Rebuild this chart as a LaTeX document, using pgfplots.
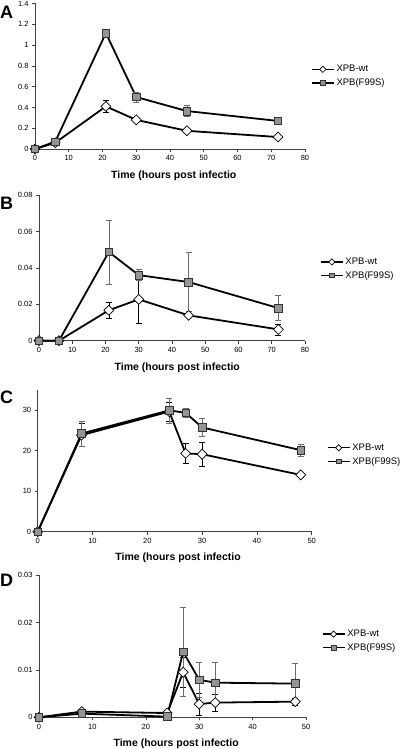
\documentclass[border=0pt]{standalone}
\usepackage{fontspec}
\setmainfont{Liberation Sans}
\usepackage{pgfplots}
\pgfplotsset{compat=1.18}
\definecolor{sqfill}{gray}{0.58}
\definecolor{errgray}{gray}{0.42}
\pgfplotsset{
 panel/.style={
  scale only axis, clip=false,
  axis lines=left, axis line style={-, black!75, line width=0.6pt},
  tick align=outside, major tick length=3pt, tick style={black!75, line width=0.6pt},
  xmin=0, ymin=0, scaled y ticks=false,
  ticklabel style={font=\fontsize{7.5}{9}\selectfont},
  /pgf/number format/assume math mode=true,
  /pgf/number format/fixed,
  xlabel={Time (hours post infectio},
  xlabel style={font=\fontsize{10.5}{12}\selectfont\bfseries, anchor=west},
  legend style={draw=none, fill=none, font=\fontsize{9.5}{11}\selectfont, anchor=west, inner sep=0pt, row sep=1.5pt, cells={anchor=west}},
  legend image code/.code={\draw[#1, mark size=2.2pt, line width=1.4pt, mark repeat=2, mark phase=2] plot coordinates {(0pt,0pt) (11pt,0pt) (22pt,0pt)};},
 },
 wt/.style={black, line width=1.8pt, mark=square*, mark size=3.5pt,
   mark options={rotate=45, fill=white, draw=black, line width=0.7pt, solid},
   error bars/.cd, y dir=both, y explicit,
   error bar style={black, line width=0.6pt},
   error mark options={rotate=90, black, line width=0.6pt, mark size=3pt}},
 mut/.style={black, line width=1.8pt, mark=square*, mark size=3.8pt,
   mark options={fill=sqfill, draw=black!80, line width=0.7pt, solid},
   error bars/.cd, y dir=both, y explicit,
   error bar style={errgray, line width=0.6pt},
   error mark options={rotate=90, errgray, line width=0.6pt, mark size=3pt}},
}
\begin{document}
\begin{tikzpicture}
\useasboundingbox (0pt,0pt) rectangle (400pt,749pt);
% ---------- A ----------
\begin{axis}[panel, at={(35pt,600pt)}, anchor=south west, width=270pt, height=145.5pt,
  xmax=80, ymax=1.4, xtick={0,10,...,80}, ytick={0,0.2,...,1.4},
  xlabel style={at={(axis description cs:0.269,-0.186)}},
  legend style={at={(1.022,0.5)}}]
\addplot[wt] coordinates {(0,0) +- (0,0) (6,0.06) +- (0,0.01) (21,0.41) +- (0,0.06) (30,0.28) +- (0,0.015) (45,0.175) +- (0,0.015) (72,0.115) +- (0,0.01)};
\addplot[mut] coordinates {(0,0) +- (0,0) (6,0.07) +- (0,0.01) (21,1.115) +- (0,0.02) (30,0.50) +- (0,0.05) (45,0.365) +- (0,0.055) (72,0.27) +- (0,0.02)};
\legend{XPB-wt, XPB(F99S)}
\end{axis}
% ---------- B ----------
\begin{axis}[panel, at={(39pt,408.3pt)}, anchor=south west, width=266pt, height=145.7pt,
  xmax=80, ymax=0.08, xtick={0,10,...,80}, ytick={0,0.02,0.04,0.06,0.08},
  yticklabels={0,0.02,0.04,0.06,0.08},
  xlabel style={at={(axis description cs:0.271,-0.183)}},
  legend style={at={(1.056,0.493)}}]
\addplot[wt] coordinates {(0,0) +- (0,0) (6,0) +- (0,0) (21,0.0167) +- (0,0.0045) (30,0.0227) +- (0,0.0132) (45,0.0139) +- (0,0.0005) (72,0.0062) +- (0,0.003)};
\addplot[mut] coordinates {(0,0) +- (0,0) (6,0) +- (0,0) (21,0.0487) +- (0,0.0175) (30,0.036) +- (0,0.003) (45,0.0322) +- (0,0.0163) (72,0.0179) +- (0,0.0068)};
\legend{XPB-wt, XPB(F99S)}
\end{axis}
% ---------- C ----------
\begin{axis}[panel, at={(37.7pt,217.3pt)}, anchor=south west, width=274pt, height=142pt,
  xmax=50, ymax=35, xtick={0,10,...,50}, ytick={0,10,20,30},
  xlabel style={at={(axis description cs:0.271,-0.185)}},
  legend style={at={(1.055,0.542)}}]
\addplot[wt] coordinates {(0,0) +- (0,0) (8,23.8) +- (0,2.8) (24,29.6) +- (0,2.3) (27,19.3) +- (0,2.5) (30,19.1) +- (0,3) (48,14) +- (0,0.5)};
\addplot[mut] coordinates {(0,0) +- (0,0) (8,24.2) +- (0,3.1) (24,29.9) +- (0,3.1) (27,29.3) +- (0,1.15) (30,25.7) +- (0,2.3) (48,20.1) +- (0,1.5)};
\legend{XPB-wt, XPB(F99S)}
\end{axis}
% ---------- D ----------
\begin{axis}[panel, at={(39pt,31.7pt)}, anchor=south west, width=267pt, height=142.3pt,
  xmax=50, ymax=0.03, xtick={0,10,...,50}, ytick={0,0.01,0.02,0.03},
  yticklabels={0,0.01,0.02,0.03},
  xlabel style={at={(axis description cs:0.266,-0.188)}},
  legend style={at={(1.059,0.536)}}]
\addplot[wt] coordinates {(0,0) +- (0,0) (8,0.0012) +- (0,0) (24,0.0009) +- (0,0) (27,0.0095) +- (0,0.0032) (30,0.0028) +- (0,0.0023) (33,0.0031) +- (0,0.0018) (48,0.0033) +- (0,0.0008)};
\addplot[mut] coordinates {(0,0) +- (0,0) (8,0.00077) +- (0,0) (24,0.00014) +- (0,0) (27,0.0138) +- (0,0.0094) (30,0.0079) +- (0,0.0037) (33,0.0073) +- (0,0.0043) (48,0.0071) +- (0,0.0042)};
\legend{XPB-wt, XPB(F99S)}
\end{axis}
% panel letters
\node[anchor=base west, inner sep=0pt, font=\fontsize{18}{20}\selectfont\bfseries] at (0pt,730.7pt) {A};
\node[anchor=base west, inner sep=0pt, font=\fontsize{18}{20}\selectfont\bfseries] at (0pt,539pt) {B};
\node[anchor=base west, inner sep=0pt, font=\fontsize{18}{20}\selectfont\bfseries] at (0pt,345.7pt) {C};
\node[anchor=base west, inner sep=0pt, font=\fontsize{18}{20}\selectfont\bfseries] at (0pt,162.3pt) {D};
\end{tikzpicture}
\end{document}
